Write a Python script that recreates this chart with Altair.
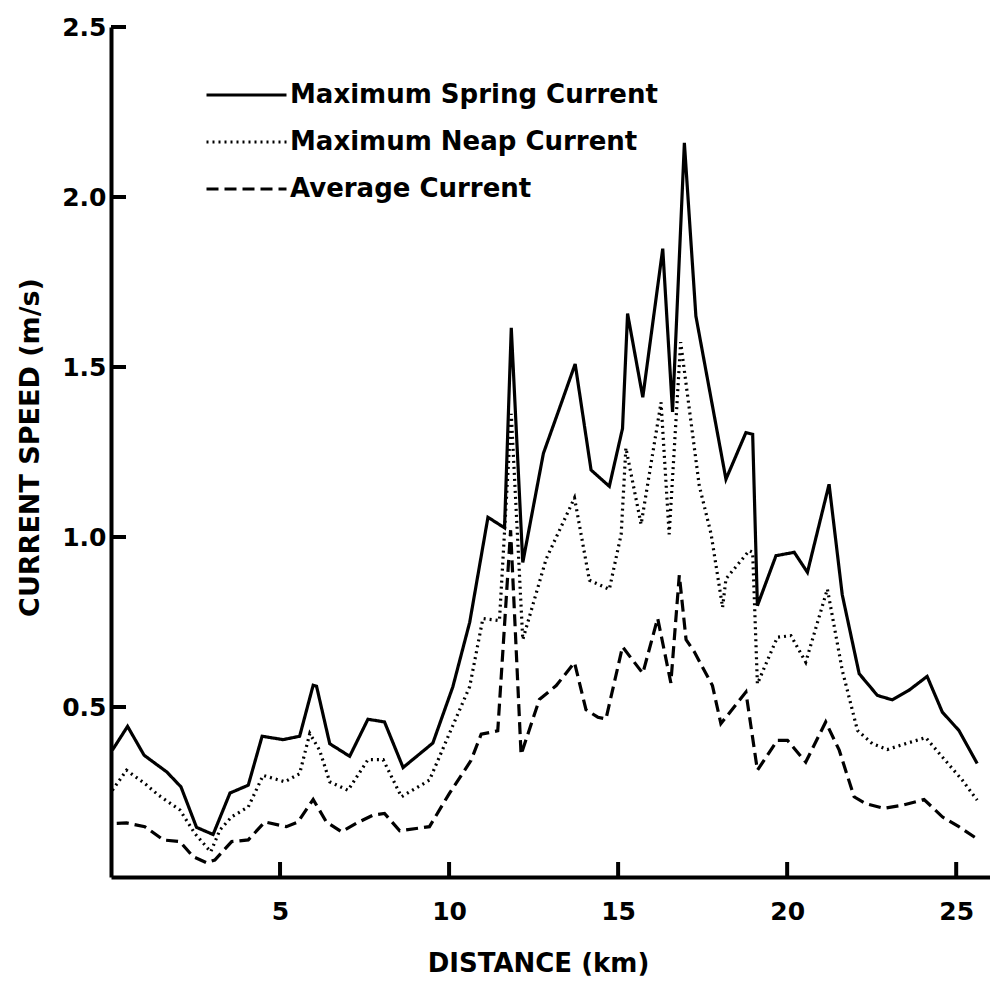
import altair as alt
import pandas as pd

# ---- data ----
spring_km = [0.04, 0.49, 0.98, 1.65, 2.07, 2.53, 3.02, 3.52, 4.06, 4.47, 5.09, 5.58, 5.98, 6.08,
             6.47, 7.06, 7.60, 8.09, 8.64, 9.52, 10.11, 10.61, 11.15, 11.64, 11.84, 12.18, 12.79,
             13.26, 13.73, 14.20, 14.74, 15.13, 15.28, 15.73, 16.32, 16.61, 16.96, 17.30, 18.19,
             18.78, 18.98, 19.12, 19.67, 20.21, 20.60, 21.24, 21.63, 22.13, 22.67, 23.11, 23.60,
             24.14, 24.59, 25.08, 25.62]
spring_val = [0.373, 0.443, 0.358, 0.309, 0.265, 0.146, 0.125, 0.247, 0.270, 0.414, 0.404, 0.414,
              0.564, 0.561, 0.392, 0.355, 0.464, 0.456, 0.322, 0.394, 0.559, 0.749, 1.058, 1.027,
              1.615, 0.925, 1.246, 1.377, 1.509, 1.197, 1.149, 1.319, 1.657, 1.411, 1.848, 1.368,
              2.159, 1.650, 1.170, 1.307, 1.302, 0.798, 0.945, 0.955, 0.896, 1.155, 0.830, 0.598,
              0.534, 0.521, 0.549, 0.590, 0.485, 0.431, 0.334]

neap_km = [0.04, 0.46, 1.00, 1.40, 2.04, 2.48, 2.95, 3.22, 3.57, 4.06, 4.50, 5.14, 5.58, 5.88,
           6.17, 6.47, 7.01, 7.60, 8.05, 8.59, 9.42, 10.01, 10.61, 11.00, 11.49, 11.84, 12.18,
           12.87, 13.71, 14.15, 14.74, 15.09, 15.23, 15.68, 16.27, 16.51, 16.85, 17.40, 17.75,
           18.09, 18.19, 18.88, 18.98, 19.12, 19.71, 20.11, 20.55, 21.19, 21.63, 22.08, 22.52,
           22.96, 23.50, 24.10, 24.59, 25.18, 25.62]
neap_val = [0.255, 0.314, 0.275, 0.241, 0.197, 0.128, 0.074, 0.138, 0.177, 0.206, 0.299, 0.280,
            0.304, 0.422, 0.373, 0.280, 0.255, 0.345, 0.345, 0.236, 0.285, 0.422, 0.560, 0.760,
            0.754, 1.362, 0.698, 0.935, 1.115, 0.873, 0.846, 1.008, 1.262, 1.037, 1.396, 1.008,
            1.573, 1.151, 1.009, 0.793, 0.877, 0.960, 0.955, 0.568, 0.705, 0.710, 0.632, 0.847,
            0.608, 0.431, 0.392, 0.375, 0.392, 0.410, 0.353, 0.285, 0.226]

avg_km = [0.17, 0.46, 1.00, 1.55, 2.04, 2.43, 2.83, 3.07, 3.57, 4.06, 4.55, 5.19, 5.53, 5.98,
          6.37, 6.82, 7.26, 7.75, 8.09, 8.54, 9.42, 10.01, 10.65, 10.95, 11.44, 11.82, 12.13,
          12.67, 13.17, 13.71, 14.05, 14.40, 14.64, 15.13, 15.73, 16.17, 16.56, 16.81, 17.01,
          17.25, 17.79, 18.04, 18.78, 19.12, 19.71, 20.01, 20.55, 21.14, 21.54, 21.98, 22.32,
          22.87, 23.41, 24.05, 24.59, 25.08, 25.67]
avg_val = [0.158, 0.159, 0.148, 0.109, 0.104, 0.060, 0.042, 0.050, 0.104, 0.109, 0.162, 0.148,
           0.162, 0.228, 0.162, 0.133, 0.158, 0.182, 0.187, 0.136, 0.148, 0.246, 0.343, 0.420,
           0.430, 1.020, 0.360, 0.522, 0.563, 0.631, 0.492, 0.470, 0.465, 0.677, 0.599, 0.761,
           0.571, 0.888, 0.698, 0.663, 0.563, 0.451, 0.544, 0.314, 0.402, 0.402, 0.338, 0.456,
           0.373, 0.236, 0.216, 0.202, 0.211, 0.228, 0.177, 0.148, 0.109]

series_names = ["Maximum Spring Current", "Maximum Neap Current", "Average Current"]
x_ticks = [5, 10, 15, 20, 25]
y_ticks = [0.5, 1.0, 1.5, 2.0, 2.5]

rows = []
for name, ks, vs in zip(series_names, [spring_km, neap_km, avg_km], [spring_val, neap_val, avg_val]):
    for i, (k, v) in enumerate(zip(ks, vs)):
        rows.append({"series": name, "km": k, "speed": v, "order": i})
df = pd.DataFrame(rows)

FONT = "DejaVu Sans"
W, H = 879, 850

x_scale = alt.Scale(domain=[0, 26], nice=False, zero=False)
y_scale = alt.Scale(domain=[0, 2.5], nice=False)

lines = alt.Chart(df).mark_line(color="black", strokeWidth=3.2, strokeCap="butt").encode(
    x=alt.X("km:Q", scale=x_scale,
            axis=alt.Axis(values=x_ticks, ticks=False, domainWidth=4, domainColor="black",
                          labelFont=FONT, labelFontSize=25, labelFontWeight="bold", labelColor="black",
                          labelPadding=22, grid=False, title="DISTANCE (km)",
                          titleFont=FONT, titleFontSize=26, titleFontWeight="bold", titleColor="black",
                          titleX=427, titleY=86, titleBaseline="middle", titleAlign="center")),
    y=alt.Y("speed:Q", scale=y_scale,
            axis=alt.Axis(values=y_ticks, ticks=False, domainWidth=4, domainColor="black",
                          format=".1f", labelFont=FONT, labelFontSize=25, labelFontWeight="bold",
                          labelColor="black", labelPadding=5, grid=False,
                          title="CURRENT SPEED (m/s)", titleFont=FONT, titleFontSize=27,
                          titleFontWeight="bold", titleColor="black", titleAngle=-90,
                          titleX=-81, titleY=420, titleBaseline="middle", titleAlign="center")),
    strokeDash=alt.StrokeDash("series:N",
                              scale=alt.Scale(domain=series_names, range=[[1, 0], [2, 4], [12, 6]]),
                              sort=series_names,
                              legend=alt.Legend(title=None, orient="none", legendX=94, legendY=53,
                                                symbolType="stroke", symbolSize=6400,
                                                symbolStrokeWidth=3, symbolStrokeColor="black",
                                                clipHeight=30,
                                                labelFont=FONT, labelFontSize=26, labelFontWeight="bold",
                                                labelColor="black", labelOffset=2, rowPadding=17,
                                                labelLimit=500)),
    order="order:Q",
)

ydf = pd.DataFrame({"t": y_ticks})
xdf = pd.DataFrame({"t": x_ticks})
yticks = alt.Chart(ydf).mark_rule(color="black", strokeWidth=4).encode(
    y=alt.Y("t:Q", scale=y_scale), x=alt.value(0), x2=alt.value(15))
xticks = alt.Chart(xdf).mark_rule(color="black", strokeWidth=4).encode(
    x=alt.X("t:Q", scale=x_scale), y=alt.value(H), y2=alt.value(H - 15))

chart = alt.layer(lines, yticks, xticks).properties(
    width=W, height=H,
    padding={"left": 111, "top": 27, "right": 0, "bottom": 109},
    autosize=alt.AutoSizeParams(type="none"),
    background="white",
).configure_view(stroke=None)

chart.save("out.html", embed_options={"renderer": "svg", "actions": False})
